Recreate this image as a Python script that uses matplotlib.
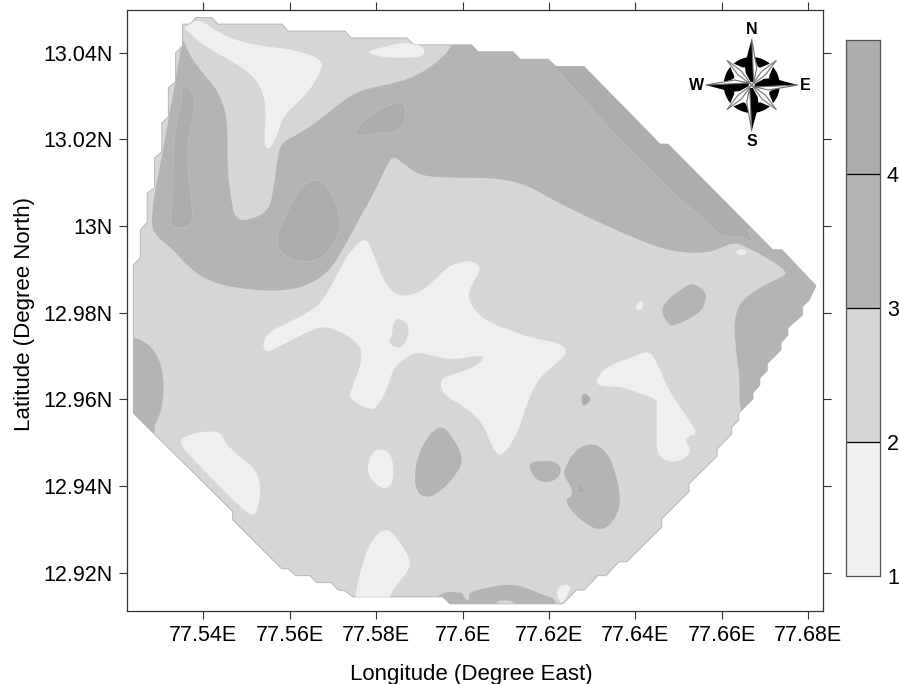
import numpy as np
import matplotlib
matplotlib.use("Agg")
import matplotlib.pyplot as plt
from matplotlib.path import Path
from matplotlib.patches import PathPatch, Polygon

plt.rcParams['font.family'] = ['Liberation Sans', 'DejaVu Sans']

# ---------- values ----------
X_TICKS = [77.54, 77.56, 77.58, 77.60, 77.62, 77.64, 77.66, 77.68]
X_LABELS = ['77.54E', '77.56E', '77.58E', '77.6E', '77.62E', '77.64E', '77.66E', '77.68E']
Y_TICKS = [13.04, 13.02, 13.00, 12.98, 12.96, 12.94, 12.92]
Y_LABELS = ['13.04N', '13.02N', '13N', '12.98N', '12.96N', '12.94N', '12.92N']
CLASS_EDGES = [1, 2, 3, 4, 5]
CLASS_LABELS = ['1', '2', '3', '4']
CLASS_COLORS = ['#efefef', '#d6d6d6', '#b4b4b4', '#adadad']

OUTLINE_LON = [77.5352,77.5369,77.5383,77.5420,77.5434,77.5582,77.5596,77.5728,77.5742,77.5871,77.5888,77.6021,77.6036,77.6117,77.6133,77.6198,77.6216,77.6281,77.6457,77.6475,77.6718,77.6739,77.6818,77.6802,77.6787,77.6787,77.6753,77.6753,77.6737,77.6737,77.6705,77.6705,77.6688,77.6688,77.6672,77.6672,77.6639,77.6639,77.6623,77.6623,77.6589,77.6589,77.6524,77.6524,77.6461,77.6461,77.6380,77.6362,77.6332,77.6313,77.6281,77.6264,77.6232,77.5971,77.5954,77.5746,77.5728,77.5712,77.5696,77.5662,77.5647,77.5614,77.5596,77.5581,77.5468,77.5468,77.5238,77.5238,77.5254,77.5254,77.5270,77.5270,77.5287,77.5287,77.5304,77.5304,77.5319,77.5319,77.5336,77.5336,77.5352]
OUTLINE_LAT = [13.0466,13.0466,13.0481,13.0481,13.0466,13.0466,13.0450,13.0450,13.0434,13.0434,13.0418,13.0418,13.0402,13.0402,13.0385,13.0385,13.0368,13.0368,13.0189,13.0189,12.9945,12.9945,12.9862,12.9829,12.9814,12.9795,12.9765,12.9748,12.9731,12.9714,12.9682,12.9666,12.9649,12.9633,12.9615,12.9601,12.9568,12.9552,12.9536,12.9520,12.9485,12.9469,12.9405,12.9387,12.9324,12.9305,12.9225,12.9225,12.9193,12.9193,12.9160,12.9160,12.9128,12.9128,12.9144,12.9144,12.9158,12.9160,12.9177,12.9177,12.9193,12.9193,12.9209,12.9209,12.9322,12.9341,12.9568,12.9910,12.9927,12.9991,13.0009,13.0076,13.0088,13.0157,13.0172,13.0238,13.0252,13.0319,13.0333,13.0400,13.0416]

BAND_LON = [77.5352,77.5346,77.5335,77.5318,77.5304,77.5288,77.5279,77.5288,77.5331,77.5365,77.5408,77.5469,77.5578,77.5647,77.5693,77.5723,77.5755,77.5793,77.5827,77.5839,77.5862,77.5902,77.5978,77.6080,77.6149,77.6209,77.6288,77.6381,77.6457,77.6510,77.6566,77.6596,77.6631,77.6661,77.6705,77.6753,77.6739,77.6688,77.6642,77.6631,77.6628,77.6635,77.6642,77.6640,77.6688,77.6874,77.6850,77.6550,77.6318,77.5978,77.5978,77.5948,77.5902,77.5855,77.5763,77.5716,77.5670,77.5617,77.5582,77.5571,77.5561,77.5547,77.5508,77.5478,77.5466,77.5455,77.5457,77.5439,77.5392,77.5365]
BAND_LAT = [13.0437,13.0399,13.0332,13.0238,13.0159,13.0083,13.0007,12.9979,12.9945,12.9905,12.9875,12.9857,12.9848,12.9864,12.9898,12.9945,13.0007,13.0072,13.0145,13.0162,13.0145,13.0115,13.0111,13.0111,13.0095,13.0060,13.0021,12.9979,12.9949,12.9938,12.9938,12.9949,12.9963,12.9949,12.9926,12.9894,12.9882,12.9859,12.9825,12.9790,12.9760,12.9698,12.9638,12.9568,12.9529,12.9829,12.9898,13.0291,13.0452,13.0452,13.0418,13.0383,13.0351,13.0332,13.0314,13.0284,13.0245,13.0210,13.0194,13.0159,13.0067,13.0032,13.0014,13.0014,13.0044,13.0136,13.0238,13.0307,13.0360,13.0400]

NE_STRIP_LON = [77.6198,77.6364,77.6480,77.6603,77.6642,77.6672,77.6661,77.6688,77.6781,77.6318,77.6179]
NE_STRIP_LAT = [13.0383,13.0199,13.0083,12.9975,12.9975,12.9963,12.9991,13.0002,13.0002,13.0475,13.0475]

# class 3-4 pockets
WEST_LON = [77.5238,77.5260,77.5293,77.5309,77.5307,77.5295,77.5284,77.5291,77.5196,77.5196]
WEST_LAT = [12.9742,12.9737,12.9707,12.9652,12.9592,12.9552,12.9536,12.9515,12.9552,12.9760]
MIDDLE_LON = [77.5948,77.5971,77.6003,77.5989,77.5948,77.5918,77.5895,77.5888,77.5895,77.5918]
MIDDLE_LAT = [12.9541,12.9522,12.9467,12.9430,12.9386,12.9372,12.9384,12.9414,12.9467,12.9513]
EAST_LON = [77.6533,77.6566,77.6561,77.6550,77.6487,77.6473,77.6459,77.6473,77.6503]
EAST_LAT = [12.9871,12.9845,12.9822,12.9799,12.9767,12.9776,12.9806,12.9829,12.9852]
LOBE_LON = [77.6151,77.6179,77.6214,77.6232,77.6214,77.6186,77.6163]
LOBE_LAT = [12.9453,12.9458,12.9458,12.9437,12.9412,12.9407,12.9421]
SE_LON = [77.6235,77.6260,77.6295,77.6325,77.6348,77.6367,77.6357,77.6323,77.6279,77.6244,77.6239,77.6253,77.6253,77.6235]
SE_LAT = [12.9439,12.9483,12.9499,12.9488,12.9453,12.9375,12.9328,12.9294,12.9315,12.9352,12.9370,12.9375,12.9398,12.9421]
SOUTH_LON = [77.5936,77.5971,77.5987,77.5999,77.6006,77.6017,77.6013,77.6064,77.6110,77.6149,77.6186,77.6214,77.6221,77.5971]
SOUTH_LAT = [12.9146,12.9158,12.9153,12.9155,12.9137,12.9137,12.9155,12.9167,12.9174,12.9165,12.9148,12.9141,12.9109,12.9109]

# class 4-5 pockets
NARROW_LON = [77.5352,77.5373,77.5383,77.5365,77.5362,77.5369,77.5377,77.5369,77.5335,77.5321,77.5331,77.5329,77.5335,77.5348]
NARROW_LAT = [13.0329,13.0314,13.0275,13.0205,13.0159,13.0090,13.0021,12.9998,12.9995,13.0007,13.0060,13.0152,13.0229,13.0275]
OVAL_LON = [77.5662,77.5679,77.5701,77.5716,77.5716,77.5686,77.5647,77.5601,77.5574,77.5568,77.5593,77.5616,77.5639]
OVAL_LAT = [13.0108,13.0102,13.0068,13.0022,12.9984,12.9933,12.9915,12.9922,12.9945,12.9975,13.0030,13.0076,13.0100]
UPPER_LON = [77.5859,77.5869,77.5867,77.5844,77.5797,77.5758,77.5749,77.5778,77.5816]
UPPER_LAT = [13.0287,13.0272,13.0238,13.0215,13.0215,13.0205,13.0218,13.0249,13.0275]
DOT_LON = [77.6283,77.6300,77.6281,77.6274,77.6276]
DOT_LAT = [12.9615,12.9601,12.9582,12.9594,12.9610]
TINY_LON = [77.6265,77.6276,77.6286,77.6272,77.6265]
TINY_LAT = [12.9409,12.9407,12.9386,12.9382,12.9386]

# class 1-2 pockets
NW_LIGHT_LON = [77.5353,77.5369,77.5381,77.5399,77.5439,77.5485,77.5547,77.5616,77.5679,77.5670,77.5647,77.5608,77.5584,77.5570,77.5550,77.5539,77.5547,77.5535,77.5500,77.5439,77.5392,77.5371]
NW_LIGHT_LAT = [13.0457,13.0466,13.0475,13.0472,13.0445,13.0425,13.0414,13.0406,13.0383,13.0353,13.0314,13.0275,13.0252,13.0206,13.0172,13.0192,13.0261,13.0322,13.0360,13.0395,13.0422,13.0445]
TOP_LIGHT_LON = [77.5774,77.5825,77.5855,77.5878,77.5902,77.5915,77.5902,77.5855,77.5809]
TOP_LIGHT_LAT = [13.0402,13.0415,13.0422,13.0422,13.0418,13.0402,13.0389,13.0388,13.0390]
CENTRE_LON = [77.5777,77.5793,77.5816,77.5848,77.5902,77.5941,77.5971,77.6017,77.6047,77.6017,77.6013,77.6033,77.6064,77.6110,77.6156,77.6219,77.6246,77.6219,77.6179,77.6151,77.6133,77.6105,77.6084,77.6068,77.6047,77.6010,77.5964,77.5948,77.5952,77.5978,77.6024,77.6052,77.6040,77.5978,77.5941,77.5895,77.5871,77.5839,77.5825,77.5802,77.5786,77.5733,77.5746,77.5770,77.5758,77.5709,77.5677,77.5640,77.5594,77.5550,77.5536,77.5547,77.5594,77.5640,77.5677,77.5723,77.5746]
CENTRE_LAT = [12.9975,12.9938,12.9875,12.9836,12.9845,12.9882,12.9910,12.9922,12.9905,12.9859,12.9829,12.9799,12.9776,12.9760,12.9742,12.9732,12.9712,12.9684,12.9652,12.9598,12.9536,12.9483,12.9469,12.9490,12.9545,12.9580,12.9605,12.9628,12.9649,12.9658,12.9672,12.9695,12.9702,12.9691,12.9698,12.9709,12.9698,12.9672,12.9622,12.9582,12.9575,12.9603,12.9628,12.9698,12.9732,12.9760,12.9769,12.9755,12.9732,12.9707,12.9721,12.9753,12.9776,12.9799,12.9825,12.9915,12.9949]
EAST_LIGHT_LON = [77.6427,77.6445,77.6473,77.6503,77.6547,77.6522,77.6515,77.6529,77.6519,77.6487,77.6457,77.6448,77.6450,77.6450,77.6418,77.6364,77.6318,77.6307,77.6334,77.6388]
EAST_LIGHT_LAT = [12.9712,12.9698,12.9628,12.9582,12.9520,12.9515,12.9502,12.9485,12.9465,12.9453,12.9465,12.9490,12.9582,12.9601,12.9610,12.9631,12.9628,12.9645,12.9677,12.9695]
SW_LIGHT_LON = [77.5337,77.5376,77.5416,77.5443,77.5450,77.5485,77.5524,77.5534,77.5524,77.5513,77.5492,77.5439,77.5385]
SW_LIGHT_LAT = [12.9504,12.9522,12.9527,12.9522,12.9499,12.9467,12.9437,12.9391,12.9338,12.9331,12.9345,12.9398,12.9453]
SPOT_LON = [77.5793,77.5825,77.5839,77.5841,77.5832,77.5816,77.5793,77.5781,77.5781]
SPOT_LAT = [12.9483,12.9485,12.9460,12.9421,12.9398,12.9393,12.9409,12.9430,12.9453]
BOTTOM_LIGHT_LON = [77.5823,77.5848,77.5883,77.5871,77.5837,77.5827,77.5749,77.5756,77.5770,77.5793]
BOTTOM_LIGHT_LAT = [12.9303,12.9282,12.9225,12.9199,12.9160,12.9128,12.9128,12.9171,12.9229,12.9282]
FLECK1_LON = [77.6399,77.6413,77.6420,77.6415,77.6404]
FLECK1_LAT = [12.9815,12.9829,12.9825,12.9806,12.9804]
FLECK2_LON = [77.6631,77.6646,77.6661,77.6649,77.6635]
FLECK2_LAT = [12.9940,12.9949,12.9940,12.9931,12.9935]
FLECK3_LON = [77.6216,77.6237,77.6253,77.6244,77.6232,77.6221]
FLECK3_LAT = [12.9162,12.9174,12.9167,12.9153,12.9128,12.9137]

# class 2-3 holes on top of the other classes
HOLE_LON = [77.5851,77.5876,77.5874,77.5862,77.5844,77.5827,77.5839,77.5837]
HOLE_LAT = [12.9790,12.9772,12.9744,12.9721,12.9719,12.9732,12.9753,12.9772]
SLIVER_LON = [77.6070,77.6094,77.6133]
SLIVER_LAT = [12.9128,12.9139,12.9128]

LIGHT, MID, DARK, DARKER = CLASS_COLORS
LAYERS = [
    (BAND_LON, BAND_LAT, DARK, True),
    (NE_STRIP_LON, NE_STRIP_LAT, DARKER, False),
    (WEST_LON, WEST_LAT, DARK, True), (MIDDLE_LON, MIDDLE_LAT, DARK, True),
    (EAST_LON, EAST_LAT, DARK, True), (LOBE_LON, LOBE_LAT, DARK, True),
    (SE_LON, SE_LAT, DARK, True), (SOUTH_LON, SOUTH_LAT, DARK, True),
    (NARROW_LON, NARROW_LAT, DARKER, True), (OVAL_LON, OVAL_LAT, DARKER, True),
    (UPPER_LON, UPPER_LAT, DARKER, True), (DOT_LON, DOT_LAT, DARKER, True),
    (TINY_LON, TINY_LAT, DARKER, True),
    (NW_LIGHT_LON, NW_LIGHT_LAT, LIGHT, True), (TOP_LIGHT_LON, TOP_LIGHT_LAT, LIGHT, True),
    (CENTRE_LON, CENTRE_LAT, LIGHT, True), (EAST_LIGHT_LON, EAST_LIGHT_LAT, LIGHT, True),
    (SW_LIGHT_LON, SW_LIGHT_LAT, LIGHT, True), (SPOT_LON, SPOT_LAT, LIGHT, True),
    (BOTTOM_LIGHT_LON, BOTTOM_LIGHT_LAT, LIGHT, True), (FLECK1_LON, FLECK1_LAT, LIGHT, True),
    (FLECK2_LON, FLECK2_LAT, LIGHT, True), (FLECK3_LON, FLECK3_LAT, LIGHT, True),
    (HOLE_LON, HOLE_LAT, MID, True), (SLIVER_LON, SLIVER_LAT, MID, True),
]

W, H = 899, 684
fig = plt.figure(figsize=(W / 100, H / 100), dpi=100)


def box(left, top, right, bottom):
    return [left / W, 1 - bottom / H, (right - left) / W, (bottom - top) / H]


def closed_smooth(xs, ys):
    pts = np.column_stack([xs, ys])
    mids = (pts + np.roll(pts, -1, axis=0)) / 2
    verts, codes = [mids[-1]], [Path.MOVETO]
    for p, m in zip(pts, mids):
        verts += [p, m]
        codes += [Path.CURVE3, Path.CURVE3]
    return Path(verts, codes)


ax = fig.add_axes(box(126.7, 10, 823.3, 610.7))
ax.set_xlim(77.52227, 77.68348)
ax.set_ylim(12.91122, 13.04985)

outline = Polygon(np.column_stack([OUTLINE_LON, OUTLINE_LAT]), closed=True,
                  facecolor=MID, edgecolor='#b0b0b0', linewidth=0.6, zorder=1)
ax.add_patch(outline)
for i, (lons, lats, colour, smooth) in enumerate(LAYERS):
    if smooth:
        patch = PathPatch(closed_smooth(lons, lats), facecolor=colour, edgecolor='none', zorder=2 + i * 0.01)
    else:
        patch = Polygon(np.column_stack([lons, lats]), closed=True, facecolor=colour, edgecolor='none', zorder=2 + i * 0.01)
    if colour == DARKER:
        patch.set_edgecolor('#c6c6c6')
        patch.set_linewidth(0.35)
    ax.add_patch(patch)
    patch.set_clip_path(outline)

ax.set_xticks(X_TICKS, X_LABELS)
ax.set_yticks(Y_TICKS, Y_LABELS)
ax.tick_params(axis='both', which='major', direction='out', length=6, width=0.8, color='#333333',
               labelsize=15.5, top=True, right=True, labeltop=False, labelright=False, pad=4)
for s in ax.spines.values():
    s.set_linewidth(0.9)
    s.set_color('#333333')
ax.set_xlabel('Longitude (Degree East)', fontsize=16)
ax.set_ylabel('Latitude (Degree North)', fontsize=16)
ax.xaxis.set_label_coords(0.495, -0.088)
ax.yaxis.set_label_coords(-0.131, 0.494)

# compass rose
cax = fig.add_axes(box(692, 15, 812, 155))
cax.set_xlim(-59.7, 60.3)
cax.set_ylim(-70, 70)
cax.axis('off')
sweep = np.linspace(-1, 1, 15)
for k in range(8):
    ang = np.deg2rad(22.5 + 45 * k)
    outer = ang + sweep * np.deg2rad(18)
    inner = outer[::-1]
    inner_r = 28 - 9 * np.cos(sweep * np.pi / 2)
    rr = np.concatenate([np.full(15, 28.0), inner_r])
    aa = np.concatenate([outer, inner])
    cax.add_patch(Polygon(np.column_stack([rr * np.cos(aa), rr * np.sin(aa)]), closed=True,
                          facecolor='black', edgecolor='none'))
for k in range(4):
    t = np.deg2rad(90 * k)
    rot = np.array([[np.cos(t), -np.sin(t)], [np.sin(t), np.cos(t)]])
    d = np.array([[0, 0], [-2.5, 17], [0, 35], [2.5, 17]]) @ np.array([[np.cos(np.pi / 4), np.sin(np.pi / 4)], [-np.sin(np.pi / 4), np.cos(np.pi / 4)]])
    cax.add_patch(Polygon(d @ rot.T, closed=True, facecolor='white', edgecolor='#808080', linewidth=0.9))
for k in range(4):
    t = np.deg2rad(90 * k)
    rot = np.array([[np.cos(t), -np.sin(t)], [np.sin(t), np.cos(t)]])
    black = np.array([[0, 46], [-7, 20], [-6, 12], [-1, 3], [2, 3], [2, 24]])
    white = np.array([[0, 46], [2, 3], [5, 17]])
    cax.add_patch(Polygon(black @ rot.T, closed=True, facecolor='black', edgecolor='none'))
    cax.add_patch(Polygon(white @ rot.T, closed=True, facecolor='white', edgecolor='#707070', linewidth=0.8))
for label, x, y in [('N', 0, 56), ('S', 0, -57), ('E', 54, 0), ('W', -55, 0)]:
    cax.text(x, y, label, ha='center', va='center', fontsize=11.5, fontweight='bold', color='black')

# class legend
lax = fig.add_axes(box(846.3, 40, 880, 576))
lax.set_xlim(0, 1)
lax.set_ylim(CLASS_EDGES[0], CLASS_EDGES[-1])
lax.bar(0.5, np.diff(CLASS_EDGES), width=1, bottom=CLASS_EDGES[:-1], color=CLASS_COLORS, linewidth=0)
lax.hlines(CLASS_EDGES[1:-1], 0, 1, colors='black', linewidth=0.9)
lax.set_xticks([])
lax.yaxis.tick_right()
lax.set_yticks(CLASS_EDGES[:-1], CLASS_LABELS)
lax.tick_params(axis='y', length=0, labelsize=15.5, pad=5)
for s in lax.spines.values():
    s.set_linewidth(0.9)
    s.set_color('#555555')

fig.savefig('out.png', dpi=100)
